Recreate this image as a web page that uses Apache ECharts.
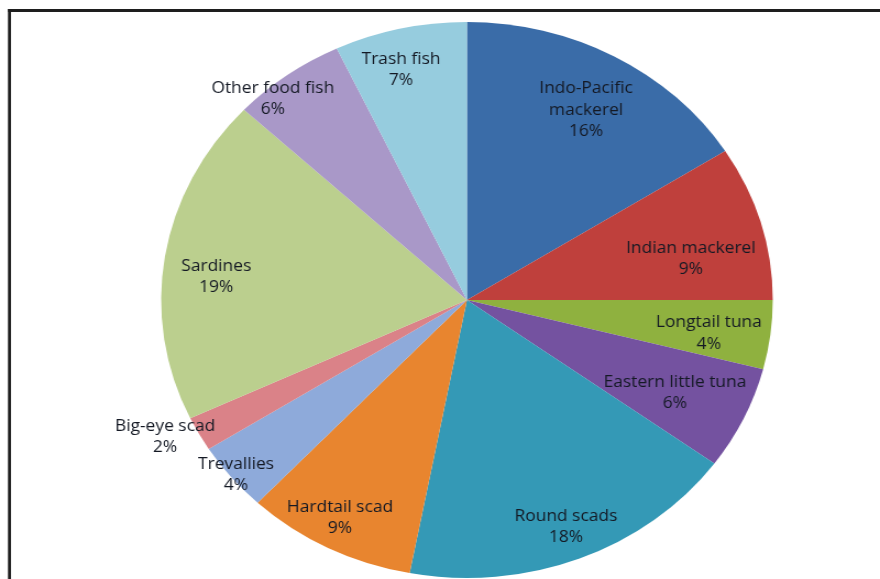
<!DOCTYPE html>
<html>
<head>
<meta charset="utf-8">
<script src="https://cdn.jsdelivr.net/npm/echarts@6/dist/echarts.min.js"></script>
<style>
  html, body { margin: 0; padding: 0; background: #ffffff; overflow: hidden; }
  #wrap { position: relative; width: 880px; height: 579px; overflow: hidden; }
  #chart { position: absolute; left: 0; top: 0; width: 800px; height: 579px; transform: scaleX(1.1); transform-origin: 0 0; }
</style>
</head>
<body>
<div id="wrap"><div id="chart"></div></div>
<script>
// ---- data ----
const categories = [
  'Indo-Pacific mackerel', 'Indian mackerel', 'Longtail tuna', 'Eastern little tuna',
  'Round scads', 'Hardtail scad', 'Trevallies', 'Big-eye scad', 'Sardines',
  'Other food fish', 'Trash fish'
];
const shares = [16, 9, 4, 6, 18, 9, 4, 2, 19, 6, 7];

// ---- styles ----
const colors = [
  '#3A6CA8', '#BF403C', '#8FB13F', '#7452A0', '#3499B6', '#E8852F',
  '#8EAADA', '#DA8288', '#BBCF8E', '#A998C8', '#96CCDE'
];
// label distance from centre (fraction of radius) and angular nudge (degrees)
const labelRadius = [0.786, 0.747, 0.80, 0.758, 0.879, 0.887, 0.983, 1.103, 0.824, 0.962, 0.855];
const labelShift  = [0.9, 4.8, 1.4, 1.0, 0, 0.9, -0.2, 2.3, -3.2, -5.3, -2.0];

const CX = 424.5, CY = 300, R = 278;

const chart = echarts.init(document.getElementById('chart'), null, { renderer: 'canvas' });
const total = shares.reduce((a, b) => a + b, 0);
const before = [];
shares.reduce((acc, v, i) => { before[i] = acc; return acc + v; }, 0);

chart.setOption({
  animation: false,
  backgroundColor: '#ffffff',
  graphic: [
    { type: 'line', shape: { x1: 7.3, y1: 10.5, x2: 800, y2: 10.5 }, style: { stroke: '#1e1e1e', lineWidth: 3 }, z: 10 },
    { type: 'line', shape: { x1: 8.6, y1: 9, x2: 8.6, y2: 579 }, style: { stroke: '#1e1e1e', lineWidth: 2.7 }, z: 10 }
  ],
  series: [{
    type: 'pie',
    center: [CX, CY],
    radius: [0, R],
    startAngle: 90,
    clockwise: true,
    percentPrecision: 0,
    avoidLabelOverlap: false,
    silent: true,
    emphasis: { disabled: true },
    itemStyle: { borderWidth: 0 },
    labelLine: { show: false },
    label: {
      show: true,
      position: 'inside',
      fontFamily: 'Open Sans',
      fontSize: 15.8,
      lineHeight: 21.5,
      color: '#141924',
      align: 'center',
      formatter: p => (p.name === 'Indo-Pacific mackerel' ? 'Indo-Pacific\nmackerel' : p.name) + '\n' + p.percent + '%'
    },
    labelLayout: function (params) {
      const i = params.dataIndex;
      const a = ((before[i] + shares[i] / 2) / total * 360 + labelShift[i]) * Math.PI / 180;
      const f = labelRadius[i] * R;
      return {
        x: CX + f * Math.sin(a),
        y: CY - f * Math.cos(a),
        align: 'center',
        verticalAlign: 'middle'
      };
    },
    data: categories.map((name, i) => ({ name: name, value: shares[i], itemStyle: { color: colors[i] } }))
  }]
});
</script>
</body>
</html>
